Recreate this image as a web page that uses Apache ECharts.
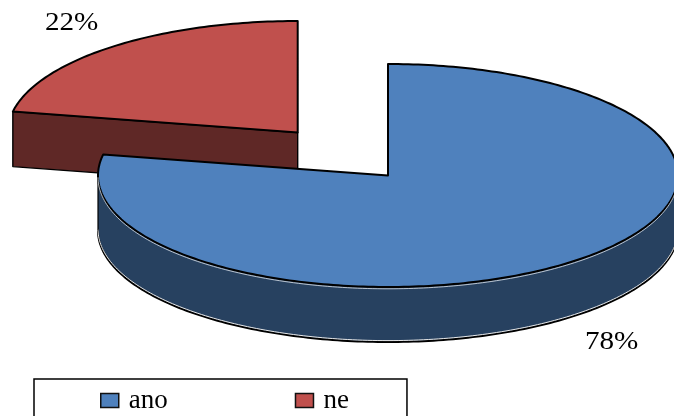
<!DOCTYPE html>
<html>
<head>
<meta charset="utf-8">
<style>html,body{margin:0;padding:0;background:#fff}#c{width:674px;height:416px;overflow:hidden}</style>
<script src="https://cdn.jsdelivr.net/npm/echarts@6/dist/echarts.min.js"></script>
</head>
<body>
<div id="c"></div>
<script>
// Pie data
const categories = ['ano', 'ne'];
const values = [78, 22];
const topColors = ['#4f81bd', '#c0504d'];
const wallColors = ['#274160', '#5f2826'];

// Projection of the tilted disc, per slice (the small slice is pulled out)
const RX = 290, RY = 111.5, DEPTH = 55;
const centers = [[388, 175.5], [297.7, 132.5]];
const labelAnchors = [[585, 342], [45, 23]];
const total = values.reduce((a, b) => a + b, 0);

const rad = d => d * Math.PI / 180;
const onRim = (c, deg, dy) => [c[0] + RX * Math.sin(rad(deg)), c[1] - RY * Math.cos(rad(deg)) + (dy || 0)];
function arc(c, from, to, dy) {
  const pts = [];
  const n = Math.max(2, Math.ceil(Math.abs(to - from)));
  for (let i = 0; i <= n; i++) pts.push(onRim(c, from + (to - from) * i / n, dy));
  return pts;
}

function sliceRenderer(idx) {
  const before = values.slice(0, idx).reduce((a, b) => a + b, 0);
  return function (params, api) {
    const v = api.value(0);
    const a0 = before / total * 360, a1 = (before + v) / total * 360;
    const c = centers[idx];
    const children = [];
    const wallStyle = { fill: wallColors[idx], stroke: '#000', lineWidth: 1.4, lineJoin: 'round' };

    // side faces along the straight cuts, when they turn towards the viewer
    [[a0, Math.sin(rad(a0)) < 0], [a1, Math.sin(rad(a1)) > 0]].forEach(([a, visible]) => {
      if (!visible) return;
      const r = onRim(c, a);
      children.push({ type: 'polygon', shape: { points: [c, r, [r[0], r[1] + DEPTH], [c[0], c[1] + DEPTH]] }, style: wallStyle });
    });

    // curved outer wall, only the near half of the rim
    const w0 = Math.max(a0, 90), w1 = Math.min(a1, 270);
    if (w1 > w0) {
      const upper = arc(c, w0, w1, 0), lower = arc(c, w0, w1, DEPTH);
      children.push({ type: 'polygon', shape: { points: upper.concat(lower.slice().reverse()) }, style: { fill: wallColors[idx] } });
      children.push({ type: 'polyline', shape: { points: lower }, style: { stroke: '#000', lineWidth: 2, fill: null } });
      children.push({ type: 'polyline', shape: { points: arc(c, w0, w1, DEPTH - 1.4) }, style: { stroke: '#e8e8e8', lineWidth: 1, fill: null } });
      children.push({ type: 'polyline', shape: { points: [onRim(c, w1), onRim(c, w1, DEPTH)] }, style: { stroke: '#000', lineWidth: 1.2, fill: null } });
    }

    // top face
    const top = [c].concat(arc(c, a0, a1, 0));
    children.push({ type: 'polygon', shape: { points: top }, style: { fill: topColors[idx], stroke: '#000', lineWidth: 2, lineJoin: 'round' } });
    if (w1 > w0) {
      children.push({ type: 'polyline', shape: { points: arc(c, w0, w1, 1.8) }, style: { stroke: '#dfe6ee', lineWidth: 0.8, fill: null } });
    }

    // percentage label, set slightly wide
    children.push({
      type: 'text',
      x: labelAnchors[idx][0], y: labelAnchors[idx][1],
      scaleX: 1.12,
      style: {
        text: Math.round(v / total * 100) + '%',
        font: '26px "Liberation Serif"',
        fill: '#000',
        textAlign: 'left',
        textVerticalAlign: 'middle'
      }
    });
    return { type: 'group', children };
  };
}

const chart = echarts.init(document.getElementById('c'), null, { renderer: 'canvas' });
chart.setOption({
  animation: false,
  backgroundColor: '#fff',
  legend: {
    left: 34, top: 379,
    selectedMode: false,
    padding: [8, 58, 40, 66],
    itemGap: 127,
    itemWidth: 18, itemHeight: 14,
    borderColor: '#000', borderWidth: 1.5,
    itemStyle: { borderColor: '#111', borderWidth: 1.5 },
    icon: 'rect',
    textStyle: { fontFamily: 'Liberation Serif', fontSize: 27, color: '#000', padding: [0, 0, 0, 5] },
    data: categories
  },
  series: [1, 0].map(i => ({
    type: 'custom',
    name: categories[i],
    coordinateSystem: 'none',
    clip: false,
    itemStyle: { color: topColors[i] },
    data: [[values[i]]],
    renderItem: sliceRenderer(i)
  }))
});
</script>
</body>
</html>
